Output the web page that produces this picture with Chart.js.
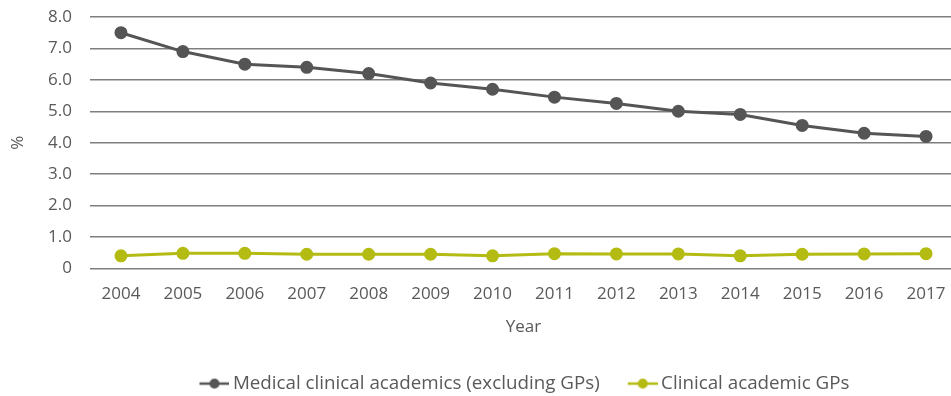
<!DOCTYPE html>
<html>
<head>
<meta charset="utf-8">
<script src="https://cdn.jsdelivr.net/npm/chart.js@4/dist/chart.umd.min.js"></script>
<style>
  html, body { margin: 0; padding: 0; background: #fff; overflow: hidden; }
  #wrap { width: 965px; height: 396px; }
</style>
</head>
<body>
<div id="wrap"><canvas id="academicsChart" width="965" height="396"></canvas></div>
<script>
const years = ['2004', '2005', '2006', '2007', '2008', '2009', '2010', '2011', '2012', '2013', '2014', '2015', '2016', '2017'];
const medicalAcademics = [7.5, 6.9, 6.5, 6.4, 6.2, 5.9, 5.7, 5.45, 5.25, 5.0, 4.9, 4.55, 4.3, 4.2];
const academicGPs = [0.4, 0.48, 0.48, 0.45, 0.45, 0.45, 0.4, 0.47, 0.46, 0.46, 0.4, 0.45, 0.46, 0.47];
const yTicks = [0, 1, 2, 3, 4, 5, 6, 7, 8];

const DARK = '#555555';
const GREEN = '#b4bb12';
const TEXT = '#595959';
const FONT = '"Open Sans", "Noto Sans", sans-serif';

// legend box width; the marker image is centred on it but drawn towards the text,
// which also leaves the gap between the two legend entries
const KEY_BOX = 52;
const KEY_IMG = 64;

/**
 * Builds a small legend marker: a short line with a dot in the middle,
 * sitting at the right-hand end of the image.
 * @param {string} colour - Stroke and fill colour.
 * @returns {HTMLCanvasElement} The marker image.
 */
function makeMarker(colour) {
    const c = document.createElement('canvas');
    c.width = KEY_IMG;
    c.height = 12;
    const ctx = c.getContext('2d');
    const end = KEY_IMG;
    const start = end - 30;
    ctx.strokeStyle = colour;
    ctx.lineWidth = 2.5;
    ctx.beginPath();
    ctx.moveTo(start, 6);
    ctx.lineTo(end, 6);
    ctx.stroke();
    ctx.fillStyle = colour;
    ctx.beginPath();
    ctx.arc((start + end) / 2, 6, 5, 0, Math.PI * 2);
    ctx.fill();
    return c;
}

// nudges the legend box after layout so the entries sit where they should
const legendNudge = {
    id: 'legendNudge',
    afterLayout(chart) {
        const legend = chart.legend;
        legend.left -= 13;
        legend.right -= 13;
        legend.top += 7;
        legend.bottom += 7;
    }
};

const data = {
    labels: years,
    datasets: [
        {
            label: 'Medical clinical academics (excluding GPs)',
            data: medicalAcademics,
            borderColor: DARK,
            backgroundColor: DARK,
            borderWidth: 3,
            pointRadius: 5,
            pointHoverRadius: 5,
            tension: 0
        },
        {
            label: 'Clinical academic GPs',
            data: academicGPs,
            borderColor: GREEN,
            backgroundColor: GREEN,
            borderWidth: 3,
            pointRadius: 5,
            pointHoverRadius: 5,
            tension: 0
        }
    ]
};

const markers = [makeMarker(DARK), makeMarker(GREEN)];

new Chart(document.getElementById('academicsChart'), {
    type: 'line',
    data: data,
    plugins: [legendNudge],
    options: {
        responsive: false,
        animation: false,
        layout: { padding: { top: 17, left: 0, right: 0, bottom: 0 } },
        plugins: {
            tooltip: { enabled: false },
            legend: {
                position: 'bottom',
                fullSize: false,
                labels: {
                    usePointStyle: true,
                    pointStyleWidth: KEY_BOX,
                    color: TEXT,
                    font: { family: FONT, size: 18.8 },
                    padding: 0,
                    boxHeight: 12,
                    generateLabels: chart => chart.data.datasets.map((ds, i) => ({
                        text: ds.label,
                        pointStyle: markers[i],
                        fontColor: TEXT,
                        datasetIndex: i,
                        lineWidth: 0,
                        strokeStyle: 'transparent',
                        fillStyle: 'transparent'
                    }))
                }
            }
        },
        scales: {
            x: {
                offset: true,
                grid: { display: false },
                border: { display: false },
                ticks: {
                    color: TEXT,
                    font: { family: FONT, size: 17 },
                    padding: 8,
                    maxRotation: 0,
                    autoSkip: false
                },
                title: {
                    display: true,
                    text: 'Year',
                    color: TEXT,
                    font: { family: FONT, size: 17 },
                    padding: { top: 4, bottom: 30 }
                }
            },
            y: {
                min: 0,
                max: 8,
                afterBuildTicks: scale => {
                    scale.ticks = yTicks.map(v => ({ value: v }));
                },
                afterFit: scale => {
                    scale.width = 90;
                    // let the top gridline sit at the layout padding
                    scale.paddingTop = 0;
                },
                grid: {
                    color: '#7f7f7f',
                    lineWidth: 1.5,
                    drawTicks: false
                },
                border: { display: false },
                ticks: {
                    color: TEXT,
                    font: { family: FONT, size: 17 },
                    padding: 18,
                    callback: v => v === 0 ? '0' : v.toFixed(1)
                },
                title: {
                    display: true,
                    text: '%',
                    color: TEXT,
                    font: { family: FONT, size: 17 },
                    padding: { top: 8, bottom: 0 }
                }
            }
        }
    }
});
</script>
</body>
</html>
